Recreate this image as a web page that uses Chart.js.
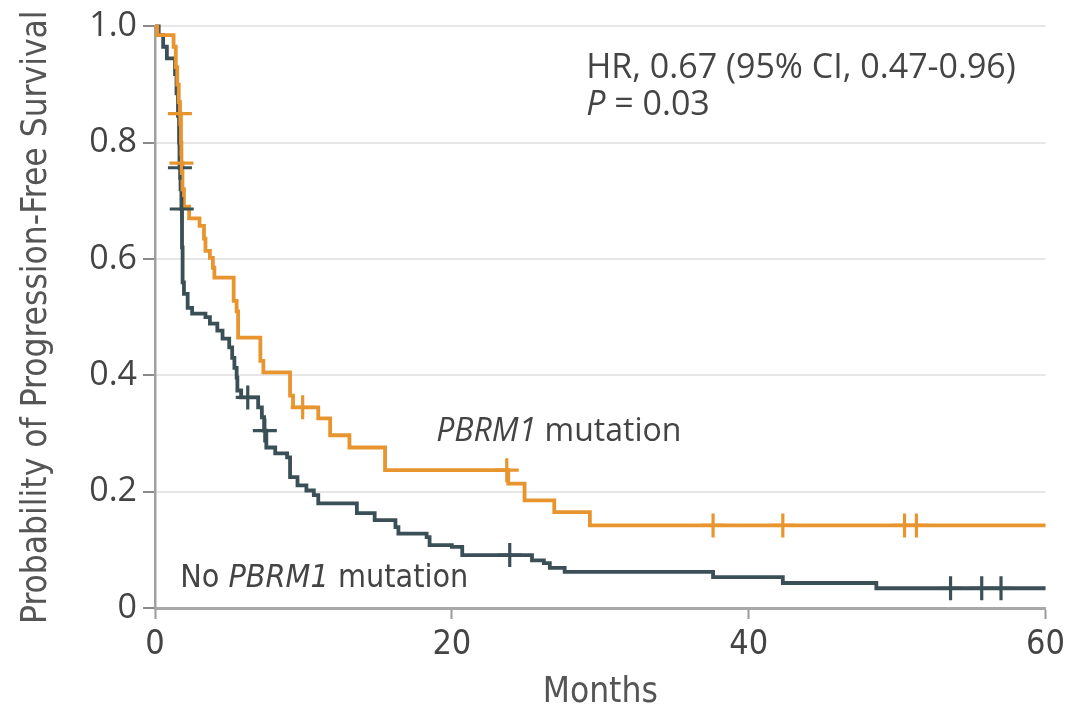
<!DOCTYPE html>
<html lang="en">
<head>
    <meta charset="UTF-8">
    <title>Progression-Free Survival by PBRM1 status</title>
    <script src="https://cdn.jsdelivr.net/npm/chart.js"></script>
    <style>
        body { margin: 0; background: #fff; }
        canvas { display: block; }
    </style>
</head>
<body>
    <canvas id="pfsChart" width="1071" height="717"></canvas>

    <script>
        // Kaplan-Meier steps (months, survival probability)
        const mutMonths = [0, 0.15, 1.25, 1.4, 1.5, 1.6, 1.68, 1.75, 1.78, 1.85, 1.95, 2.3, 3.0, 3.3, 3.4, 3.7, 3.9, 4.0,
            5.3, 5.5, 5.6, 7.1, 7.3, 9.1, 9.3, 11.0, 11.8, 13.1, 15.5, 23.8, 24.9, 26.9, 29.3, 60];
        const mutSurv = [1.0, 0.985, 0.965, 0.93, 0.9, 0.87, 0.85, 0.8, 0.765, 0.72, 0.69, 0.67, 0.657, 0.635, 0.614, 0.602, 0.585, 0.568,
            0.528, 0.51, 0.465, 0.425, 0.405, 0.365, 0.345, 0.326, 0.297, 0.276, 0.237, 0.214, 0.185, 0.165, 0.142, 0.142];

        const noMutMonths = [0, 0.25, 0.55, 0.8, 1.35, 1.45, 1.55, 1.62, 1.65, 1.72, 1.78, 1.82, 1.86, 1.95, 2.2, 2.5, 3.4, 3.7,
            4.2, 4.55, 5.0, 5.2, 5.35, 5.5, 5.55, 5.8, 6.95, 7.2, 7.35, 7.5, 8.1, 8.9, 9.1, 9.6, 10.2, 10.7, 11.0,
            13.6, 14.8, 16.2, 16.4, 18.3, 18.5, 20.0, 20.7, 25.4, 26.2, 26.6, 27.6, 37.6, 42.3, 48.6, 60];
        const noMutSurv = [1.0, 0.985, 0.965, 0.945, 0.918, 0.885, 0.846, 0.8, 0.757, 0.72, 0.686, 0.62, 0.56, 0.54, 0.516, 0.506, 0.5, 0.489,
            0.477, 0.463, 0.448, 0.43, 0.413, 0.396, 0.374, 0.362, 0.345, 0.328, 0.305, 0.276, 0.266, 0.259, 0.225, 0.211, 0.202, 0.194, 0.18,
            0.163, 0.151, 0.139, 0.128, 0.122, 0.108, 0.105, 0.091, 0.082, 0.077, 0.069, 0.062, 0.053, 0.043, 0.034, 0.034];

        // censored observations (tick marks)
        const mutCensorMonths = [1.68, 1.78, 9.95, 23.7, 37.6, 42.3, 50.5, 51.3];
        const mutCensorSurv = [0.85, 0.765, 0.345, 0.237, 0.142, 0.142, 0.142, 0.142];
        const noMutCensorMonths = [1.68, 1.8, 6.25, 7.4, 23.9, 53.6, 55.7, 57.0];
        const noMutCensorSurv = [0.757, 0.686, 0.362, 0.305, 0.091, 0.034, 0.034, 0.034];

        const xTicks = [0, 20, 40, 60];
        const yTickLabels = ['0', '0.2', '0.4', '0.6', '0.8', '1.0'];

        const orange = '#e8952f';
        const slate = '#3b4f57';
        const textColor = '#444';
        const plainFont = '"Open Sans", "Liberation Sans", sans-serif';
        const narrowFont = '"DejaVu Sans Condensed", "Liberation Sans Narrow", sans-serif';

        const toPoints = (xs, ys) => xs.map((x, i) => ({ x: x, y: ys[i] }));

        // text notes placed in data coordinates; each is a list of [text, italic] runs
        const notes = [
            { x: 29.05, y: 0.928, font: plainFont, size: 34, runs: [['HR, 0.67 (95% CI, 0.47-0.96)', false]] },
            { x: 29.05, y: 0.864, font: plainFont, size: 34, runs: [['P', true], [' = 0.03', false]] },
            { x: 18.95, y: 0.302, font: plainFont, size: 32, runs: [['PBRM1', true], [' mutation', false]] },
            { x: 1.7, y: 0.051, font: narrowFont, size: 32, runs: [['No ', false], ['PBRM1', true], [' mutation', false]] }
        ];

        const notesPlugin = {
            id: 'notes',
            afterDatasetsDraw(chart) {
                const ctx = chart.ctx;
                const xs = chart.scales.x, ys = chart.scales.y;
                ctx.save();
                ctx.fillStyle = textColor;
                ctx.textBaseline = 'middle';
                ctx.textAlign = 'left';
                notes.forEach(n => {
                    let px = xs.getPixelForValue(n.x);
                    const py = ys.getPixelForValue(n.y);
                    n.runs.forEach(([txt, italic]) => {
                        ctx.font = (italic ? 'italic ' : '') + n.size + 'px ' + n.font;
                        ctx.fillText(txt, px, py);
                        px += ctx.measureText(txt).width;
                    });
                });
                ctx.restore();
            }
        };

        const ctx = document.getElementById('pfsChart').getContext('2d');
        new Chart(ctx, {
            type: 'line',
            data: {
                datasets: [
                    {
                        label: 'PBRM1 mutation',
                        data: toPoints(mutMonths, mutSurv),
                        borderColor: orange,
                        borderWidth: 3.8,
                        stepped: 'before',
                        pointRadius: 0,
                        fill: false,
                        clip: false,
                        order: 1
                    },
                    {
                        label: 'No PBRM1 mutation',
                        data: toPoints(noMutMonths, noMutSurv),
                        borderColor: slate,
                        borderWidth: 3.8,
                        stepped: 'before',
                        pointRadius: 0,
                        fill: false,
                        clip: false,
                        order: 2
                    },
                    {
                        label: 'PBRM1 censored',
                        data: toPoints(mutCensorMonths, mutCensorSurv),
                        showLine: false,
                        pointStyle: 'cross',
                        pointRadius: 12,
                        pointBorderWidth: 3.2,
                        borderColor: orange,
                        clip: false,
                        order: 0
                    },
                    {
                        label: 'No PBRM1 censored',
                        data: toPoints(noMutCensorMonths, noMutCensorSurv),
                        showLine: false,
                        pointStyle: 'cross',
                        pointRadius: 12,
                        pointBorderWidth: 3.2,
                        borderColor: slate,
                        clip: false,
                        order: 0
                    }
                ]
            },
            options: {
                responsive: false,
                animation: false,
                layout: { padding: { top: 25, right: 24, left: 0, bottom: 0 } },
                plugins: {
                    legend: { display: false },
                    tooltip: { enabled: false }
                },
                scales: {
                    x: {
                        type: 'linear',
                        min: 0,
                        max: 60,
                        afterFit: s => { s.height = 109; },
                        afterBuildTicks: s => { s.ticks = xTicks.map(v => ({ value: v })); },
                        grid: {
                            drawOnChartArea: false,
                            tickLength: 11,
                            tickColor: '#9a9a9a',
                            tickWidth: 2
                        },
                        border: { color: '#a8a8a8', width: 3 },
                        ticks: {
                            color: textColor,
                            padding: 6,
                            maxRotation: 0,
                            font: { family: narrowFont, size: 34 }
                        },
                        title: {
                            display: true,
                            text: 'Months',
                            color: '#555',
                            padding: { top: 0, bottom: 3 },
                            font: { family: narrowFont, size: 35 }
                        }
                    },
                    y: {
                        min: 0,
                        max: 1,
                        afterFit: s => { s.width = 155; },
                        ticks: {
                            stepSize: 0.2,
                            color: textColor,
                            padding: 6,
                            font: { family: plainFont, size: 34 },
                            callback: (v) => yTickLabels[Math.round(v * 5)]
                        },
                        grid: {
                            color: c => (c.tick && c.tick.value === 0) ? 'rgba(0,0,0,0)' : '#e6e6e6',
                            lineWidth: 2,
                            tickLength: 12,
                            tickColor: '#8a8a8a',
                            tickWidth: 2
                        },
                        border: { color: '#a0a0a0', width: 2.5 },
                        title: {
                            display: true,
                            text: 'Probability of Progression-Free Survival',
                            color: '#555',
                            padding: { top: 16, bottom: 0 },
                            font: { family: narrowFont, size: 35 }
                        }
                    }
                }
            },
            plugins: [notesPlugin]
        });
    </script>
</body>
</html>
